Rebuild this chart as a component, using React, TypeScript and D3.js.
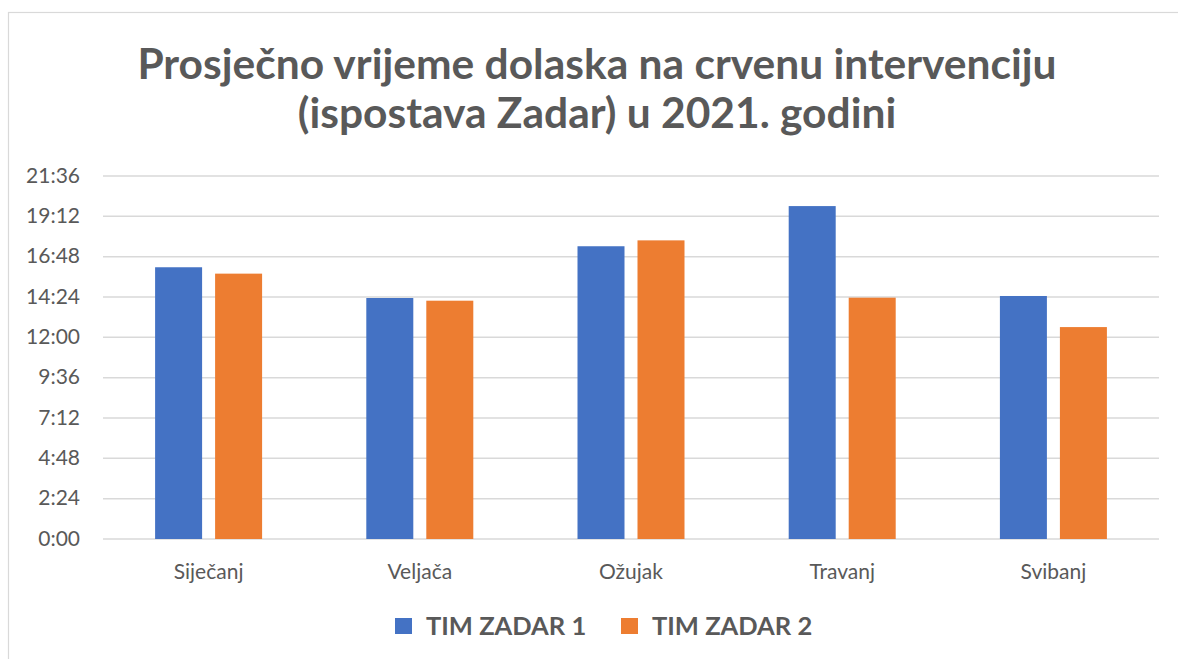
import React from "react";
import * as d3 from "d3";

const categories = ["Siječanj", "Veljača", "Ožujak", "Travanj", "Svibanj"];
const seriesNames = ["TIM ZADAR 1", "TIM ZADAR 2"];
// values in minutes (displayed as m:ss)
const tim1 = [16.17, 14.34, 17.42, 19.81, 14.46];
const tim2 = [15.79, 14.18, 17.77, 14.36, 12.61];
const yTicks = [0, 2.4, 4.8, 7.2, 9.6, 12, 14.4, 16.8, 19.2, 21.6];
const titleLines = [
  "Prosječno vrijeme dolaska na crvenu intervenciju",
  "(ispostava Zadar) u 2021. godini",
];
const colors = ["#4472C4", "#ED7D31"];

const W = 1178;
const H = 659;
const FONT = "Lato, 'Open Sans', sans-serif";
const TXT = "#595959";

function fmt(v: number) {
  const s = Math.round(v * 60);
  const m = Math.floor(s / 60);
  const ss = s % 60;
  return `${m}:${ss < 10 ? "0" : ""}${ss}`;
}

export default function App() {
  const x0 = d3.scaleBand<string>().domain(categories).range([103, 1159]).paddingInner(0).paddingOuter(0);
  const x1 = d3.scaleBand<string>().domain(seriesNames).range([0, 107]).paddingInner(0.2167).paddingOuter(0);
  const y = d3.scaleLinear().domain([0, 21.6]).range([539, 176]);
  const data = [tim1, tim2];

  return (
    <svg width={W} height={H} style={{ position: "absolute", left: 0, top: 0, background: "#fff" }} fontFamily={FONT}>
      <rect x={8.5} y={12.5} width={1200} height={700} fill="#fff" stroke="#d9d9d9" strokeWidth={1.2} />
      {titleLines.map((t, i) => (
        <text key={i} x={597} y={79 + i * 49} textAnchor="middle" fontSize={42.5} fontWeight={700} fill={TXT}>
          {t}
        </text>
      ))}
      {yTicks.map((t) => (
        <g key={t}>
          <line x1={103} x2={1159} y1={y(t)} y2={y(t)} stroke="#d9d9d9" strokeWidth={1.5} />
          <text x={80} y={y(t) + 6.8} textAnchor="end" fontSize={21} fill={TXT}>
            {fmt(t)}
          </text>
        </g>
      ))}
      {categories.map((c, ci) => {
        const c0 = (x0(c) as number) + x0.bandwidth() / 2 - 53.5;
        return (
          <g key={c}>
            {seriesNames.map((s, si) => (
              <rect
                key={s}
                x={c0 + (x1(s) as number)}
                y={y(data[si][ci])}
                width={x1.bandwidth()}
                height={y(0) - y(data[si][ci])}
                fill={colors[si]}
              />
            ))}
            <text x={(x0(c) as number) + x0.bandwidth() / 2} y={579} textAnchor="middle" fontSize={21} fill={TXT}>
              {c}
            </text>
          </g>
        );
      })}
      {seriesNames.map((s, i) => {
        const lx = 395 + i * 226;
        return (
          <g key={s}>
            <rect x={lx} y={618} width={17} height={16} fill={colors[i]} />
            <text x={lx + 31} y={634.5} fontSize={25.5} fontWeight={700} fill={TXT}>
              {s}
            </text>
          </g>
        );
      })}
    </svg>
  );
}
